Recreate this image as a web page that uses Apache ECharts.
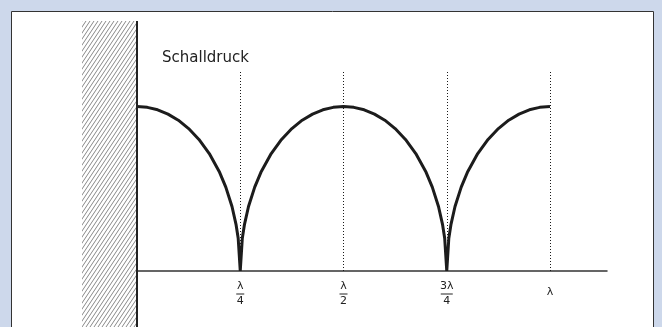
<!DOCTYPE html>
<html>
<head>
<meta charset="utf-8">
<script src="https://cdn.jsdelivr.net/npm/echarts@6/dist/echarts.min.js"></script>
<style>
  html, body { margin: 0; padding: 0; background: #cdd8eb; }
  #chart { width: 662px; height: 327px; }
</style>
</head>
<body>
<div id="chart"></div>
<script>
// Abstand von der Wand in Wellenlängen
const positions = [0, 0.025, 0.05, 0.075, 0.1, 0.125, 0.15, 0.175, 0.2, 0.215, 0.23, 0.24, 0.245, 0.25,
    0.255, 0.26, 0.27, 0.285, 0.3, 0.325, 0.35, 0.375, 0.4, 0.425, 0.45, 0.475, 0.5,
    0.525, 0.55, 0.575, 0.6, 0.625, 0.65, 0.675, 0.7, 0.715, 0.73, 0.74, 0.745, 0.75,
    0.755, 0.76, 0.77, 0.785, 0.8, 0.825, 0.85, 0.875, 0.9, 0.925, 0.95, 0.975, 1];
// Schalldruck (Betrag)
const pressure = [1, 0.995, 0.98, 0.954, 0.917, 0.866, 0.8, 0.714, 0.6, 0.51, 0.392, 0.28, 0.199, 0,
    0.199, 0.28, 0.392, 0.51, 0.6, 0.714, 0.8, 0.866, 0.917, 0.954, 0.98, 0.995, 1,
    0.995, 0.98, 0.954, 0.917, 0.866, 0.8, 0.714, 0.6, 0.51, 0.392, 0.28, 0.199, 0,
    0.199, 0.28, 0.392, 0.51, 0.6, 0.714, 0.8, 0.866, 0.917, 0.954, 0.98, 0.995, 1];
// Achsenbeschriftung
const tickValues = [0.25, 0.5, 0.75, 1];
const tickNum = ['λ', 'λ', '3λ', 'λ'];
const tickDen = ['4', '2', '4', ''];
const yTitle = 'Schalldruck';

// Schraffur für die Wand
function hatchPattern() {
    const w = 4, h = 6;
    const c = document.createElement('canvas');
    c.width = w; c.height = h;
    const ctx = c.getContext('2d');
    ctx.strokeStyle = '#6a6a6a';
    ctx.lineWidth = 0.8;
    [-w, 0, w].forEach(function (o) {
        ctx.beginPath();
        ctx.moveTo(o, h);
        ctx.lineTo(o + w, 0);
        ctx.stroke();
    });
    return c;
}

const data = positions.map(function (x, i) { return [x, pressure[i]]; });

var myChart = echarts.init(document.getElementById('chart'));

var option = {
    backgroundColor: '#cdd8eb',
    animation: false,
    graphic: [
        {
            type: 'rect', z: -10,
            shape: { x: 11.5, y: 11.5, width: 642, height: 340 },
            style: { fill: '#fff', stroke: '#333', lineWidth: 1 }
        },
        {
            type: 'rect', z: -5,
            shape: { x: 82, y: 21, width: 55, height: 320 },
            style: { fill: { image: hatchPattern(), repeat: 'repeat' } }
        },
        {
            type: 'line', z: 10,
            shape: { x1: 137, y1: 21, x2: 137, y2: 340 },
            style: { stroke: '#222', lineWidth: 2 }
        },
        {
            type: 'text', z: 10,
            left: 162, top: 51,
            style: { text: yTitle, fontFamily: 'DejaVu Sans', fontSize: 15, fill: '#222' }
        }
    ],
    grid: { left: 137, right: 55, top: 72, bottom: 56, outerBoundsMode: 'none' },
    xAxis: {
        type: 'value',
        min: 0,
        max: 1.138,
        interval: 0.25,
        axisLine: { show: true, lineStyle: { color: '#333', width: 1.5 } },
        axisTick: { show: false },
        splitLine: { show: false },
        axisLabel: {
            margin: 10,
            showMinLabel: false,
            showMaxLabel: false,
            color: '#222',
            formatter: function (v) {
                const i = tickValues.indexOf(v);
                if (i < 0) return '';
                if (!tickDen[i]) return '{s|' + tickNum[i] + '}';
                const bar = tickNum[i].length > 1 ? '{bw| }' : '{b| }';
                return '{n|' + tickNum[i] + '}\n' + bar + '\n{n|' + tickDen[i] + '}';
            },
            rich: {
                n: { fontFamily: 'DejaVu Sans', fontSize: 11, lineHeight: 11, color: '#222', align: 'center' },
                s: { fontFamily: 'DejaVu Sans', fontSize: 11, lineHeight: 22, color: '#222', align: 'center' },
                b: { width: 8, height: 1, lineHeight: 4, backgroundColor: '#222', fontSize: 1, align: 'center' },
                bw: { width: 12, height: 1, lineHeight: 4, backgroundColor: '#222', fontSize: 1, align: 'center' }
            }
        }
    },
    yAxis: {
        type: 'value',
        min: 0,
        max: 1.21,
        show: false
    },
    series: [
        {
            type: 'line',
            data: data,
            symbol: 'none',
            smooth: false,
            lineStyle: { color: '#1c1c1c', width: 3 },
            z: 5,
            markLine: {
                silent: true,
                symbol: 'none',
                label: { show: false },
                lineStyle: { color: '#1a1a1a', type: [1, 2], width: 1 },
                data: tickValues.map(function (v) { return { xAxis: v }; })
            }
        }
    ]
};

myChart.setOption(option);
</script>
</body>
</html>
